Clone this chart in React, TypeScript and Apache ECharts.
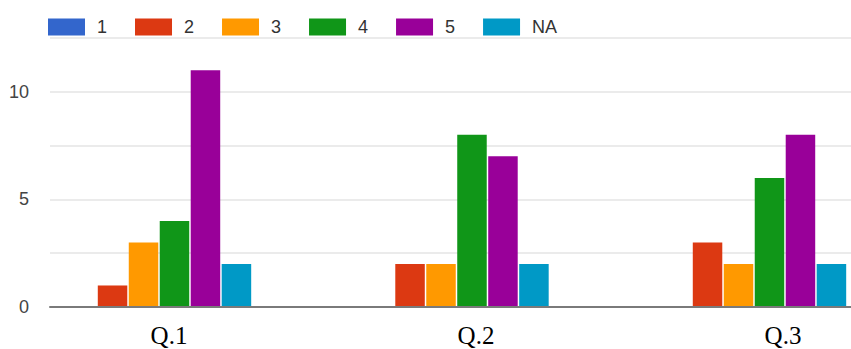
import React, { useEffect, useRef } from "react";
import * as echarts from "echarts";

const categories = ["Q.1", "Q.2", "Q.3"];
const seriesNames = ["1", "2", "3", "4", "5", "NA"];
const values1 = [0, 0, 0];
const values2 = [1, 2, 3];
const values3 = [3, 2, 2];
const values4 = [4, 8, 6];
const values5 = [11, 7, 8];
const valuesNA = [2, 2, 2];
const yTickLabels = [0, 5, 10];
const colors = ["#3366cc", "#dc3912", "#ff9900", "#109618", "#990099", "#0099c6"];

export default function App() {
  const ref = useRef<HTMLDivElement>(null);
  useEffect(() => {
    if (!ref.current) return;
    const chart = echarts.init(ref.current, undefined, { renderer: "svg" });
    const allValues = [values1, values2, values3, values4, values5, valuesNA];
    const sans = "Arial, 'Liberation Sans', sans-serif";
    const top = 38;
    const height = 269;
    chart.setOption({
      animation: false,
      color: colors,
      legend: {
        data: seriesNames,
        left: 43,
        top: 13,
        icon: "rect",
        itemWidth: 37,
        itemHeight: 17,
        itemGap: 28,
        textStyle: {
          fontSize: 18,
          fontFamily: sans,
          color: "#333",
          padding: [0, 0, 0, 7],
        },
      },
      grid: [
        { left: 10.25, width: 892.5, top, height, outerBoundsMode: "none", containLabel: false },
        { left: 50, width: 801, top, height, outerBoundsMode: "none", containLabel: false },
        { left: 15.5, width: 921, top, height, outerBoundsMode: "none", containLabel: false },
      ],
      xAxis: [
        {
          type: "category",
          gridIndex: 0,
          data: categories,
          show: false,
        },
        {
          type: "category",
          gridIndex: 1,
          data: categories,
          axisLine: { show: true, lineStyle: { color: "#7a7a7a", width: 2 } },
          axisTick: { show: false },
          axisLabel: { show: false },
          z: 5,
        },
        {
          type: "category",
          gridIndex: 2,
          data: categories,
          axisLine: { show: false },
          axisTick: { show: false },
          axisLabel: {
            show: true,
            margin: 16,
            fontSize: 25,
            fontFamily: "'Liberation Serif', 'DejaVu Serif', serif",
            color: "#000",
          },
        },
      ],
      yAxis: [
        { type: "value", gridIndex: 0, min: 0, max: 12.5, interval: 2.5, show: false },
        {
          type: "value",
          gridIndex: 1,
          min: 0,
          max: 12.5,
          interval: 2.5,
          axisLine: { show: false },
          axisTick: { show: false },
          splitLine: { show: true, lineStyle: { color: "#ebebeb", width: 2 } },
          axisLabel: {
            margin: 21,
            fontSize: 18,
            fontFamily: sans,
            color: "#444",
            formatter: (v: number) => (yTickLabels.includes(v) ? String(v) : ""),
          },
        },
        { type: "value", gridIndex: 2, min: 0, max: 12.5, show: false },
      ],
      series: seriesNames.map((name, i) => ({
        name,
        type: "bar",
        xAxisIndex: 0,
        yAxisIndex: 0,
        data: allValues[i],
        barWidth: 29.5,
        barGap: "5%",
        z: 2,
      })),
    });
    return () => chart.dispose();
  }, []);
  return (
    <div
      ref={ref}
      style={{ position: "fixed", left: 0, top: 0, width: 851, height: 349, background: "#fff" }}
    />
  );
}
